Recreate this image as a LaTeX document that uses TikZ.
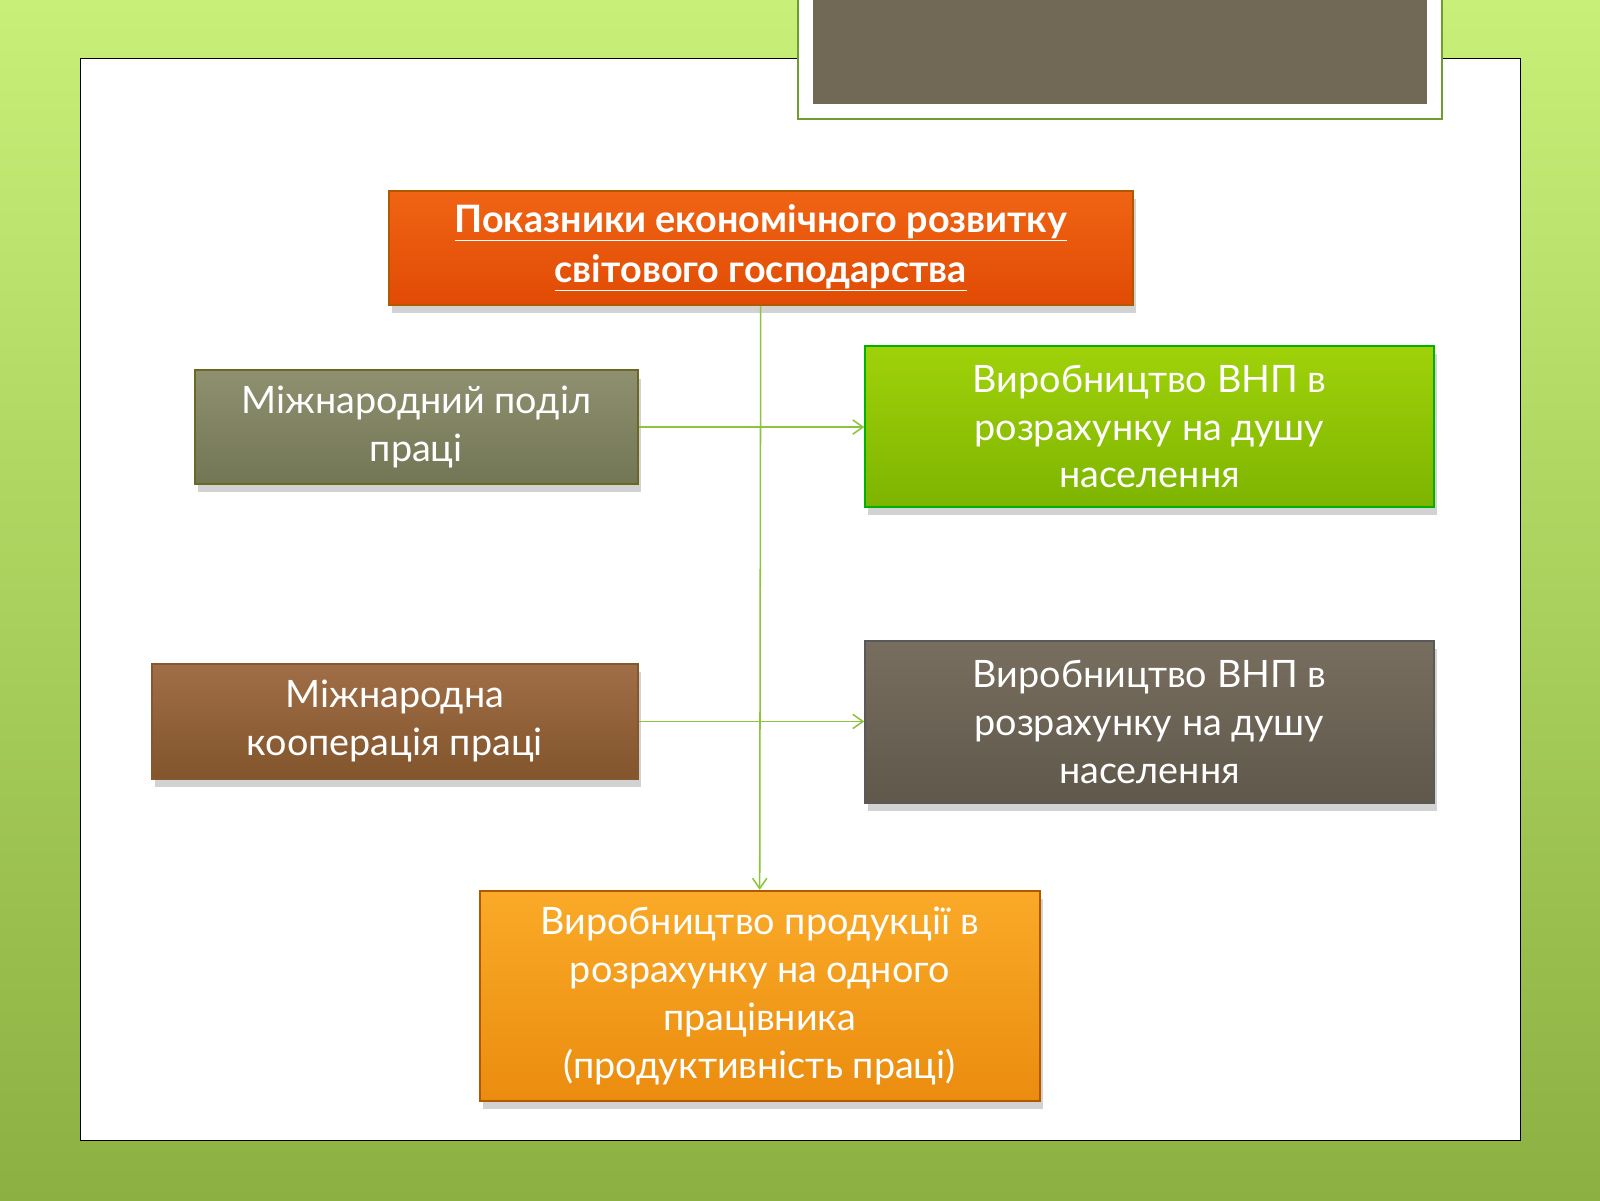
\documentclass[tikz,border=0pt]{standalone}
\usepackage{fontspec}
\setmainfont{Lato}
\usetikzlibrary{shadows,arrows.meta}
\definecolor{lnk}{HTML}{8CC43C}
\tikzset{
 box/.style={draw=#1!70!black,line width=2pt,text=white,align=center,anchor=north west,inner sep=0pt,
   font=\fontsize{37}{47}\selectfont,drop shadow={shadow xshift=3pt,shadow yshift=-8pt,opacity=0.35}},
 lk/.style={draw=lnk,line width=1.5pt,-{Straight Barb[length=10pt,width=14pt]}}
}
\begin{document}
\begin{tikzpicture}[x=1pt,y=-1pt]
\useasboundingbox (0,0) rectangle (1568,1176);
\shade[top color={rgb,255:red,200;green,240;blue,120}, bottom color={rgb,255:red,140;green,176;blue,66}] (0,0) rectangle (1568,1176);
\fill[white,draw=black,line width=1pt] (79,57) rectangle (1490,1118);
\fill[white,draw=lnk!80!black,line width=2pt] (782,-5) rectangle (1413,117);
\fill[fill={rgb,255:red,113;green,104;blue,86}] (797,-5) rectangle (1398,102);
\node[box=orange,top color={rgb,255:red,240;green,100;blue,20},bottom color={rgb,255:red,225;green,75;blue,5},minimum width=729pt,minimum height=112pt] (t) at (380,186)
 {\bfseries\underline{Показники економічного розвитку}\\[2pt]\bfseries\underline{світового господарства}};
\node[box=olive,top color={rgb,255:red,142;green,144;blue,112},bottom color={rgb,255:red,115;green,118;blue,85},minimum width=434pt,minimum height=111pt] (l1) at (190,362)
 {Міжнародний поділ\\праці};
\node[box=green,top color={rgb,255:red,160;green,210;blue,10},bottom color={rgb,255:red,125;green,180;blue,0},minimum width=557pt,minimum height=158pt] (r1) at (847,338)
 {Виробництво ВНП в\\розрахунку на душу\\населення};
\node[box=brown,top color={rgb,255:red,160;green,110;blue,70},bottom color={rgb,255:red,130;green,85;blue,45},minimum width=476pt,minimum height=112pt] (l2) at (148,650)
 {Міжнародна\\кооперація праці};
\node[box=gray,top color={rgb,255:red,120;green,110;blue,95},bottom color={rgb,255:red,95;green,88;blue,75},minimum width=557pt,minimum height=159pt] (r2) at (847,627)
 {Виробництво ВНП в\\розрахунку на душу\\населення};
\node[box=orange,top color={rgb,255:red,250;green,170;blue,40},bottom color={rgb,255:red,235;green,140;blue,15},minimum width=549pt,minimum height=206pt] (b) at (469,872)
 {Виробництво продукції в\\розрахунку на одного\\працівника\\(продуктивність праці)};
\draw[lk] (t.south) -- (b.north);
\draw[lk] (l1.east) -- (r1.west|-l1.east);
\draw[lk] (l2.east) -- (r2.west|-l2.east);
\end{tikzpicture}
\end{document}
